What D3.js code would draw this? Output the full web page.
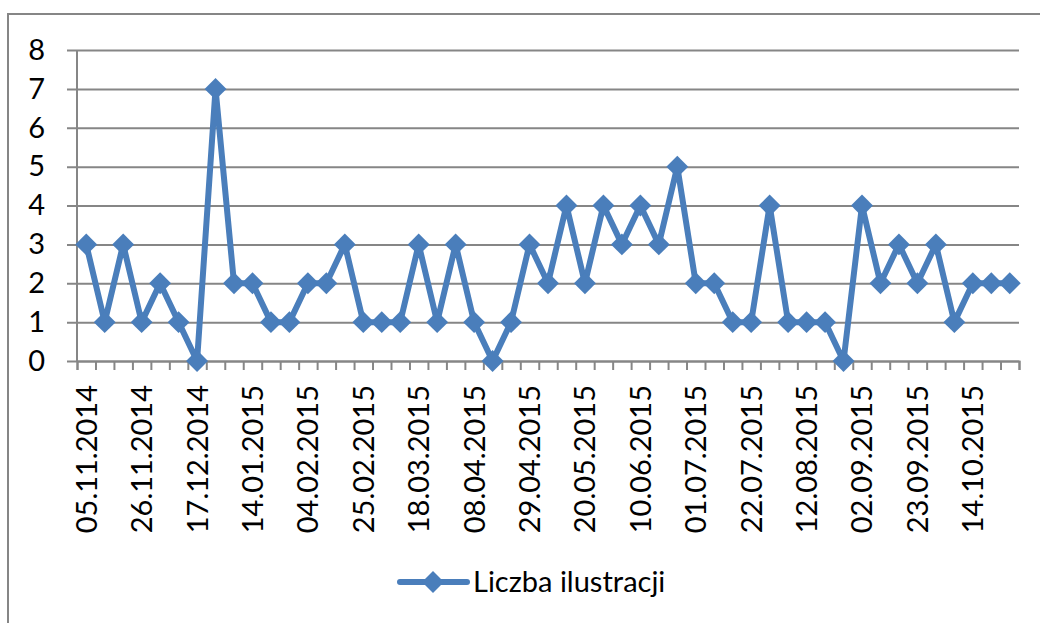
<!DOCTYPE html>
<html lang="pl">
  <head>
    <meta charset="UTF-8" />
    <title>Liczba ilustracji</title>
    <script src="https://cdn.jsdelivr.net/npm/d3@7"></script>
    <style>
      body { margin: 0; background: #fff; }
      svg text { font-family: Lato, "Open Sans", sans-serif; fill: #000; }
    </style>
  </head>
  <body>
    <div id="chart"></div>
    <script>
      // dates (category axis), only every third one is labelled
      const dates = [
        "05.11.2014", "12.11.2014", "19.11.2014", "26.11.2014", "03.12.2014",
        "10.12.2014", "17.12.2014", "31.12.2014", "07.01.2015", "14.01.2015",
        "21.01.2015", "28.01.2015", "04.02.2015", "11.02.2015", "18.02.2015",
        "25.02.2015", "04.03.2015", "11.03.2015", "18.03.2015", "25.03.2015",
        "01.04.2015", "08.04.2015", "15.04.2015", "22.04.2015", "29.04.2015",
        "06.05.2015", "13.05.2015", "20.05.2015", "27.05.2015", "03.06.2015",
        "10.06.2015", "17.06.2015", "24.06.2015", "01.07.2015", "08.07.2015",
        "15.07.2015", "22.07.2015", "29.07.2015", "05.08.2015", "12.08.2015",
        "19.08.2015", "26.08.2015", "02.09.2015", "09.09.2015", "16.09.2015",
        "23.09.2015", "30.09.2015", "07.10.2015", "14.10.2015", "21.10.2015",
        "28.10.2015"
      ];
      const counts = [
        3, 1, 3, 1, 2, 1, 0, 7, 2, 2,
        1, 1, 2, 2, 3, 1, 1, 1, 3, 1,
        3, 1, 0, 1, 3, 2, 4, 2, 4, 3,
        4, 3, 5, 2, 2, 1, 1, 4, 1, 1,
        1, 0, 4, 2, 3, 2, 3, 1, 2, 2,
        2
      ];
      const seriesName = "Liczba ilustracji";
      const yTicks = [0, 1, 2, 3, 4, 5, 6, 7, 8];

      (() => {
        const data = dates.map((d, i) => ({ date: d, value: counts[i] }));

        const W = 1040, H = 623;
        const margin = { left: 77, right: 1019, top: 50, bottom: 361 };
        const blue = "#4a7ebb", grey = "#868686";
        const fontSize = "29px";

        const svg = d3
          .select("#chart")
          .append("svg")
          .attr("width", W)
          .attr("height", H);

        // outer chart frame (runs off the picture on right/bottom)
        svg
          .append("rect")
          .attr("x", 8)
          .attr("y", 14)
          .attr("width", 1100)
          .attr("height", 700)
          .attr("fill", "none")
          .attr("stroke", grey)
          .attr("stroke-width", 2);

        const x = d3.scaleBand().domain(dates).range([margin.left, margin.right]);
        const xEdge = d3
          .scaleLinear()
          .domain([0, dates.length])
          .range([margin.left, margin.right]);
        const y = d3.scaleLinear().domain([0, 8]).range([margin.bottom, margin.top]);

        // gridlines + y labels
        const yAxis = svg
          .append("g")
          .attr("transform", "translate(" + margin.right + ",0)")
          .call(
            d3.axisLeft(y)
              .tickValues(yTicks)
              .tickSize(margin.right - 67)
              .tickPadding(22)
              .tickFormat(d3.format("d"))
          );
        yAxis.select(".domain").remove();
        yAxis.selectAll("line").attr("stroke", grey).attr("stroke-width", 2);
        yAxis.selectAll("text").style("font-size", fontSize);

        // vertical axis line
        svg
          .append("line")
          .attr("x1", margin.left)
          .attr("x2", margin.left)
          .attr("y1", y(8))
          .attr("y2", y(0))
          .attr("stroke", grey)
          .attr("stroke-width", 2);

        // tick marks between categories
        const xTicks = svg
          .append("g")
          .attr("transform", "translate(0," + margin.bottom + ")")
          .call(
            d3.axisBottom(xEdge)
              .tickValues(d3.range(dates.length + 1))
              .tickSize(9)
              .tickFormat("")
          );
        xTicks.select(".domain").attr("stroke", grey).attr("stroke-width", 2);
        xTicks.selectAll("line").attr("stroke", grey).attr("stroke-width", 2);

        // rotated date labels
        const xAxis = svg
          .append("g")
          .attr("transform", "translate(0," + margin.bottom + ")")
          .call(
            d3.axisBottom(x)
              .tickValues(dates.filter((d, i) => i % 3 === 0))
              .tickSize(0)
          );
        xAxis.select(".domain").remove();
        xAxis
          .selectAll("text")
          .attr("transform", "rotate(-90)")
          .attr("x", -24)
          .attr("y", 0)
          .attr("dy", "0.36em")
          .style("text-anchor", "end")
          .style("font-size", fontSize);

        // series line
        const line = d3
          .line()
          .x((d) => x(d.date) + x.bandwidth() / 2)
          .y((d) => y(d.value));

        svg
          .append("path")
          .datum(data)
          .attr("d", line)
          .attr("fill", "none")
          .attr("stroke", blue)
          .attr("stroke-width", 6)
          .attr("stroke-linejoin", "round");

        const diamond = d3.symbol(d3.symbolSquare, 240);

        svg
          .selectAll(".marker")
          .data(data)
          .enter()
          .append("path")
          .attr("class", "marker")
          .attr("d", diamond)
          .attr(
            "transform",
            (d) =>
              "translate(" + (x(d.date) + x.bandwidth() / 2) + "," + y(d.value) + ") rotate(45)"
          )
          .attr("fill", blue);

        // legend
        const legend = svg.append("g").attr("transform", "translate(400,582)");
        legend
          .append("line")
          .attr("x1", 0)
          .attr("x2", 67)
          .attr("stroke", blue)
          .attr("stroke-width", 6)
          .attr("stroke-linecap", "round");
        legend
          .append("path")
          .attr("d", diamond)
          .attr("transform", "translate(33,0) rotate(45)")
          .attr("fill", blue);
        legend
          .append("text")
          .attr("x", 73)
          .attr("dy", "0.36em")
          .style("font-size", fontSize)
          .text(seriesName);
      })();
    </script>
  </body>
</html>
